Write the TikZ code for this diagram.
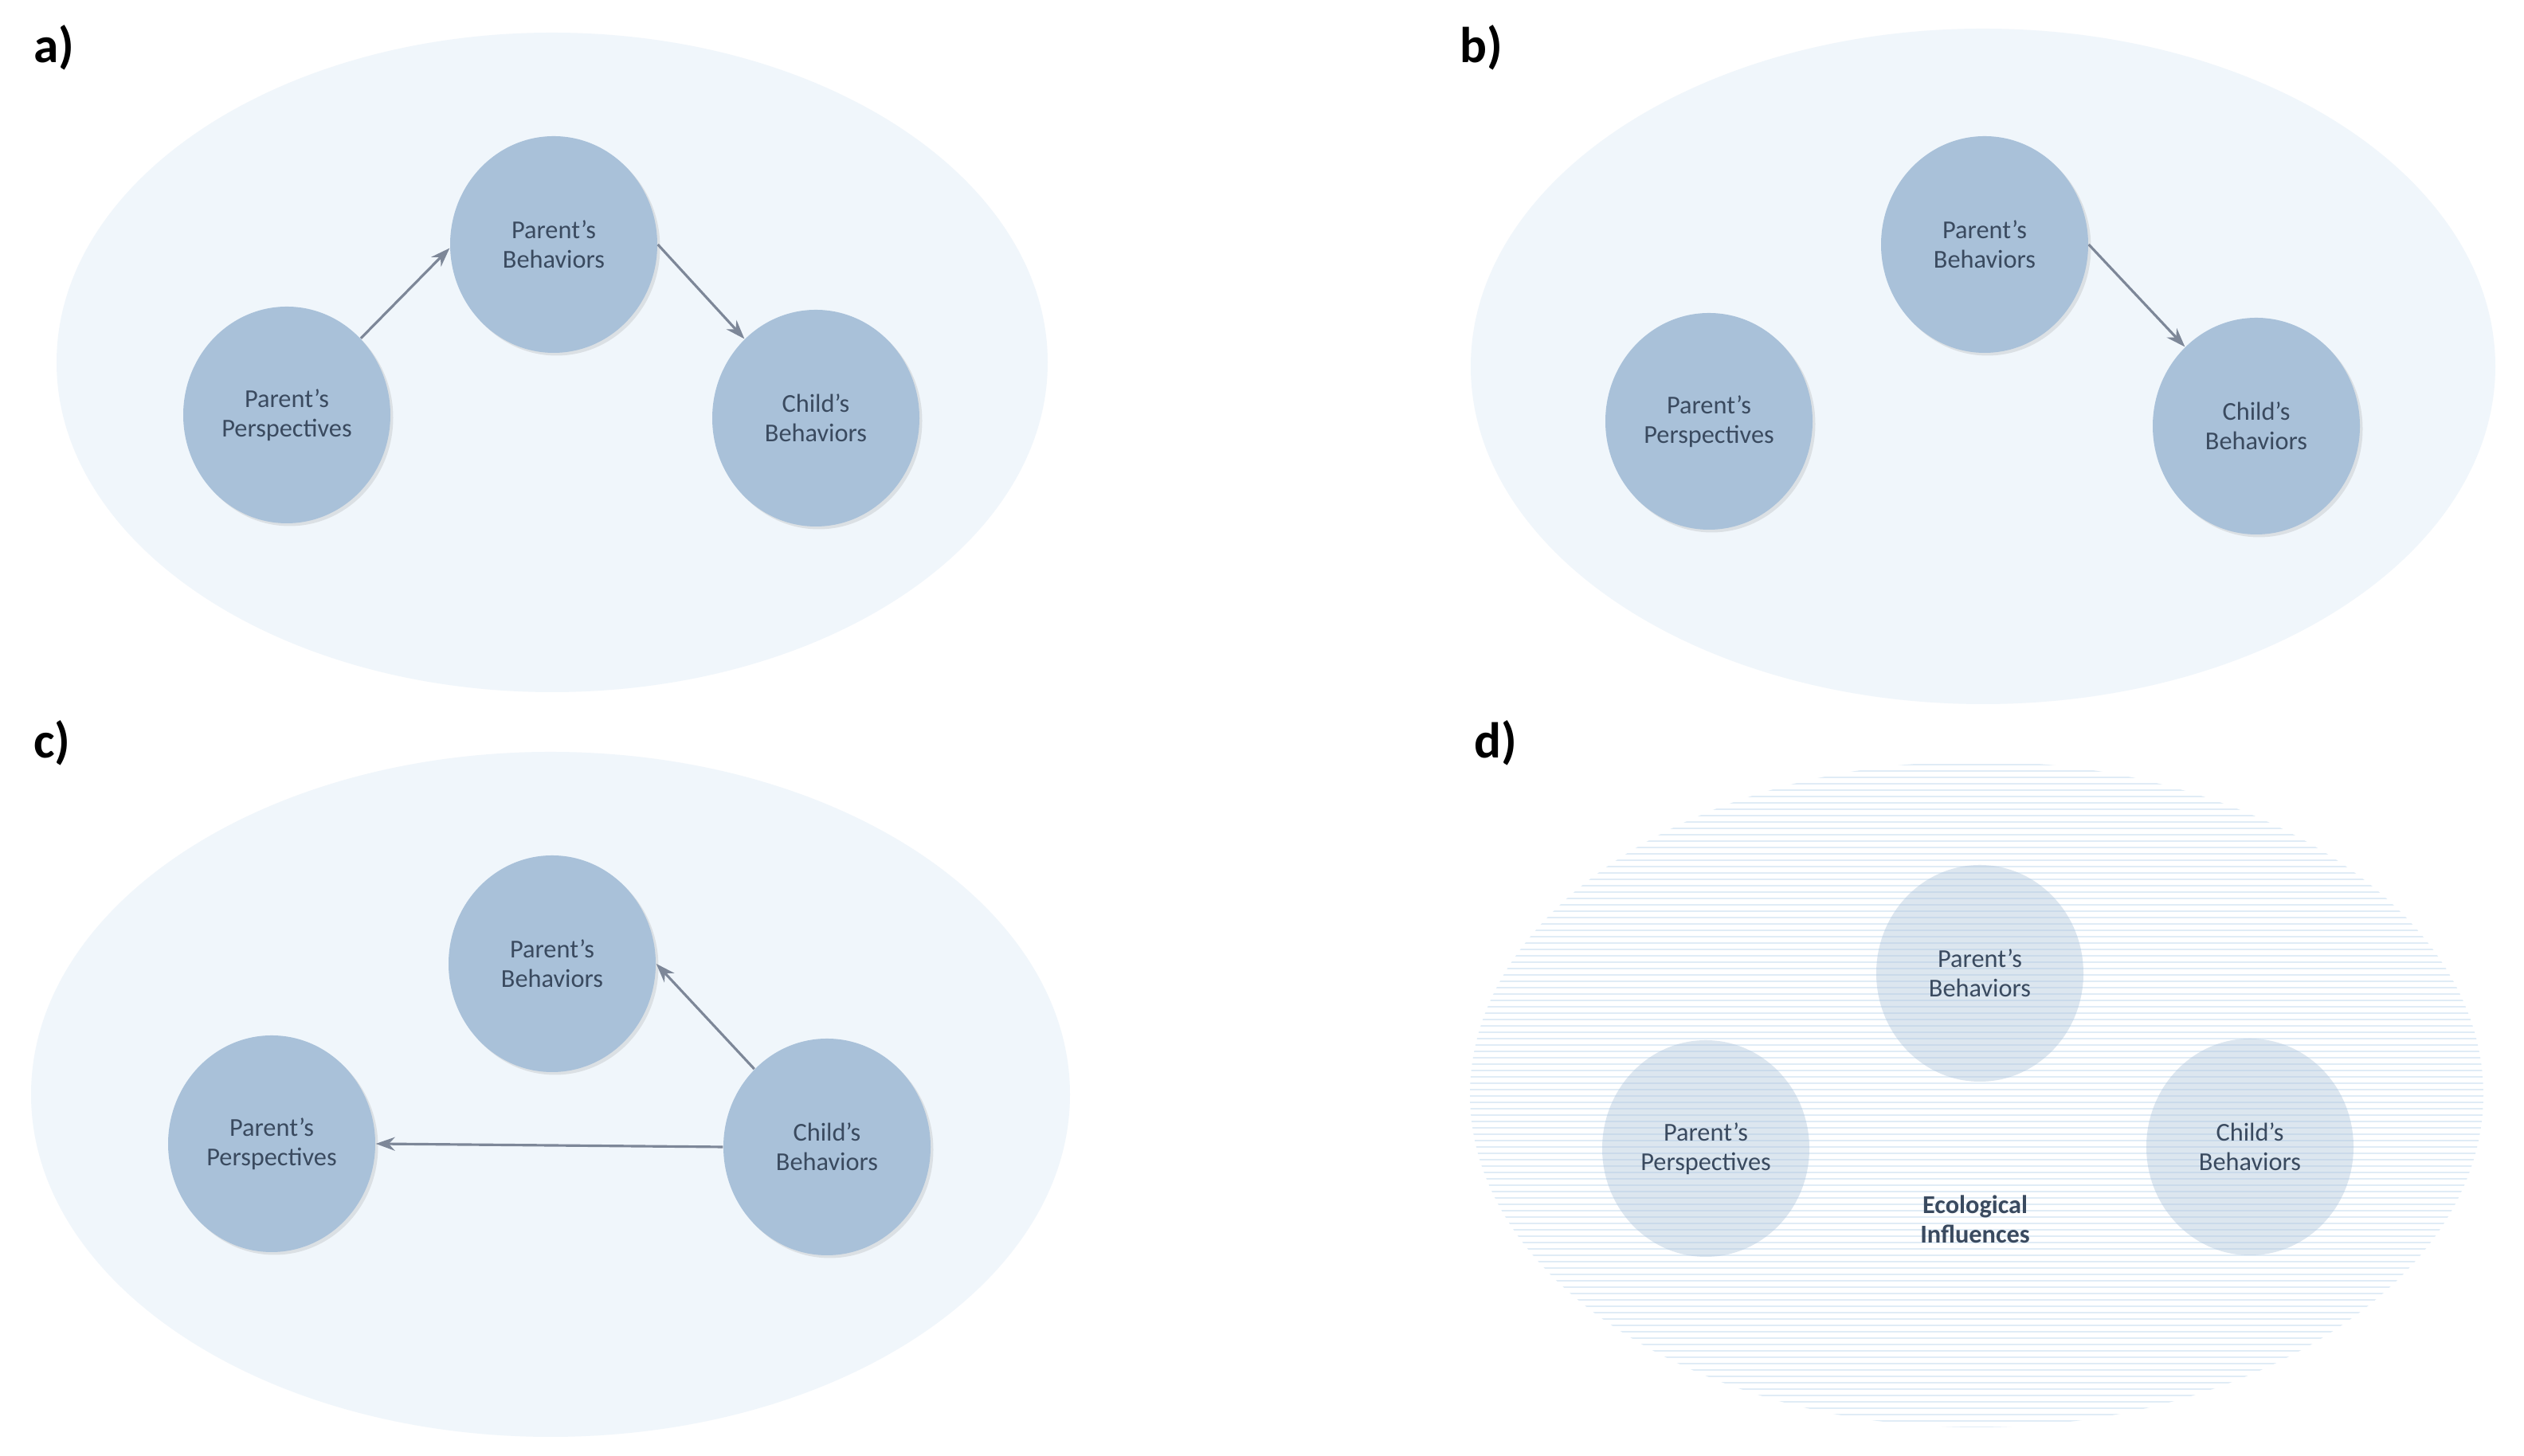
\documentclass[tikz,border=0pt]{standalone}
\usepackage{fontspec}
\setmainfont{Carlito}
\usetikzlibrary{shapes.geometric,arrows.meta,shadows}
\definecolor{field}{HTML}{F0F6FB}
\definecolor{bubble}{HTML}{A9C1D9}
\definecolor{ink}{HTML}{3A4A5F}
\definecolor{arrowgray}{HTML}{7D8798}
\definecolor{stripe}{HTML}{E0ECF6}
\newcommand{\tx}{\fontsize{9.2}{10.6}\selectfont}

\begin{document}
\begin{tikzpicture}[
    bub/.style={ellipse,fill=bubble,minimum width=2.6cm,minimum height=2.72cm,
      inner sep=0pt,align=center,text=ink,font=\tx,
      drop shadow={shadow xshift=0.35mm,shadow yshift=-0.35mm,opacity=0.18}},
    pale/.style={ellipse,fill=bubble,fill opacity=0.4,text opacity=1,
      minimum width=2.6cm,minimum height=2.72cm,inner sep=0pt,align=center,
      text=ink,font=\tx},
    tag/.style={font=\fontsize{18}{20}\selectfont\bfseries,anchor=west},
    link/.style={draw=arrowgray,line width=0.9pt,-{Stealth[length=2.4mm,width=1.7mm]}}]
    \useasboundingbox[fill=white] (0,0) rectangle (31.68,18.28);
    % a)
    \fill[field] (6.93,13.73) ellipse (6.22 and 4.14);
    \node[tag] (ta) at (0.3,17.68) {a)};
    \node[bub] (apb) at (6.95,15.21) {Parent’s\\Behaviors};
    \node[bub] (app) at (3.60,13.07) {Parent’s\\Perspectives};
    \node[bub] (acb) at (10.24,13.03) {Child’s\\Behaviors};
    \draw[link] (app.46) -- (apb.182);
    \draw[link] (apb.0) -- (acb.132);
    % b)
    \fill[field] (24.89,13.68) ellipse (6.43 and 4.24);
    \node[tag] (tb) at (18.2,17.68) {b)};
    \node[bub] (bpb) at (24.91,15.21) {Parent’s\\Behaviors};
    \node[bub] (bpp) at (21.45,12.99) {Parent’s\\Perspectives};
    \node[bub] (bcb) at (28.32,12.93) {Child’s\\Behaviors};
    \draw[link] (bpb.0) -- (bcb.132);
    % c)
    \fill[field] (6.91,4.54) ellipse (6.52 and 4.30);
    \node[tag] (tc) at (0.3,8.95) {c)};
    \node[bub] (cpb) at (6.93,6.18) {Parent’s\\Behaviors};
    \node[bub] (cpp) at (3.41,3.92) {Parent’s\\Perspectives};
    \node[bub] (ccb) at (10.38,3.88) {Child’s\\Behaviors};
    \draw[link] (ccb.133) -- (cpb.0);
    \draw[link] (ccb.180) -- (cpp.0);
    % d)
    \begin{scope}
     \clip (24.81,4.54) ellipse (6.36 and 4.18);
     \foreach \k in {0,...,105}
      \draw[stripe,line width=0.28mm] (18.4,0.36+\k*0.08) -- (31.2,0.36+\k*0.08);
    \end{scope}
    \node[tag] (td) at (18.38,8.95) {d)};
    \node[pale] (dpb) at (24.85,6.06) {Parent’s\\Behaviors};
    \node[pale] (dpp) at (21.41,3.86) {Parent’s\\Perspectives};
    \node[pale] (dcb) at (28.24,3.88) {Child’s\\Behaviors};
    \node[align=center,text=ink,font=\tx\bfseries] (eco) at (24.79,2.97)
      {Ecological\\Influences};
\end{tikzpicture}
\end{document}
